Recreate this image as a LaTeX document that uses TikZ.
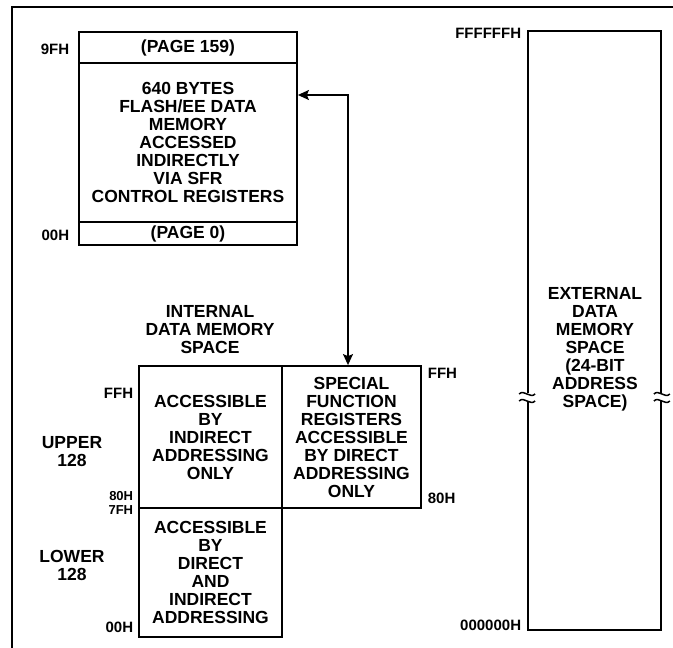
\documentclass[tikz,border=0pt]{standalone}
\usepackage{fontspec}
\setmainfont{Liberation Sans}
\usetikzlibrary{arrows.meta}

\begin{document}
\begin{tikzpicture}[x=1pt, y=-1pt, line width=1.8pt,
	every node/.style={font=\bfseries\fontsize{17.5}{18}\selectfont, align=center, inner sep=0pt},
	membox/.style={draw, line width=1.8pt},
	addr/.style={font=\bfseries\fontsize{15}{15}\selectfont},
	small addr/.style={font=\bfseries\fontsize{13}{13}\selectfont},
	>={Stealth[length=11pt, width=10pt, inset=2pt]}]
	\useasboundingbox (0,0) rectangle (673,648);
	% frame
	\draw (12,648) -- (12,7) -- (673,7);

	% flash/ee data memory
	\node[membox, minimum width=218, minimum height=31] (page159) at (188,47.5) {(PAGE 159)};
	\node[membox, minimum width=218, minimum height=159] (flashmem) at (188,142.5)
		{640 BYTES\\FLASH/EE DATA\\MEMORY\\ACCESSED\\INDIRECTLY\\VIA SFR\\CONTROL REGISTERS};
	\node[membox, minimum width=218, minimum height=23] (page0) at (188,233.5) {(PAGE 0)};
	\node[addr, anchor=east] (a9f) at (70,49) {9FH};
	\node[addr, anchor=east] (a00f) at (70,235) {00H};

	% internal data memory
	\node (intlbl) at (210,330) {INTERNAL\\DATA MEMORY\\SPACE};
	\node[membox, minimum width=143, minimum height=142] (upper) at (210.5,437)
		{ACCESSIBLE\\BY\\INDIRECT\\ADDRESSING\\ONLY};
	\node[membox, minimum width=139, minimum height=142] (sfr) at (351.5,437)
		{SPECIAL\\FUNCTION\\REGISTERS\\ACCESSIBLE\\BY DIRECT\\ADDRESSING\\ONLY};
	\node[membox, minimum width=143, minimum height=129] (lower) at (210.5,572.5)
		{ACCESSIBLE\\BY\\DIRECT\\AND\\INDIRECT\\ADDRESSING};
	\node[addr, anchor=east] (affl) at (134,393) {FFH};
	\node[small addr, anchor=east] (a80l) at (134,496) {80H};
	\node[small addr, anchor=east] (a7fl) at (134,510) {7FH};
	\node[addr, anchor=east] (a00l) at (134,627) {00H};
	\node (up128) at (72,452) {UPPER\\128};
	\node (lo128) at (72,565) {LOWER\\128};
	\node[addr, anchor=west] (affr) at (427,373) {FFH};
	\node[addr, anchor=west] (a80r) at (427,498) {80H};

	% sfr access path
	\coordinate (bend) at (348,95);
	\draw[<->, line width=1.3pt] (flashmem.east |- bend) -- (bend) -- (bend |- sfr.north);

	% external data memory
	\node[membox, minimum width=133, minimum height=599] (extmem) at (594.5,330.5) {};
	\node (extlbl) at (595,349) {EXTERNAL\\DATA\\MEMORY\\SPACE\\(24-BIT\\ADDRESS\\SPACE)};
	\node[addr, anchor=east] (affffff) at (522,33) {FFFFFFH};
	\node[addr, anchor=east] (a000000) at (522,625) {000000H};
	\foreach \e in {west,east}{
		\coordinate (brk) at (extmem.\e |- 0,397);
		\fill[white] ([shift={(-2,-4)}]brk) rectangle ([shift={(2,4)}]brk);
		\draw[line width=1.5pt] ([shift={(-8,-3)}]brk) .. controls ([shift={(-3,-8)}]brk) and ([shift={(3,2)}]brk) .. ([shift={(8,-3)}]brk);
		\draw[line width=1.5pt] ([shift={(-8,4)}]brk) .. controls ([shift={(-3,-1)}]brk) and ([shift={(3,9)}]brk) .. ([shift={(8,4)}]brk);
	}
\end{tikzpicture}
\end{document}
